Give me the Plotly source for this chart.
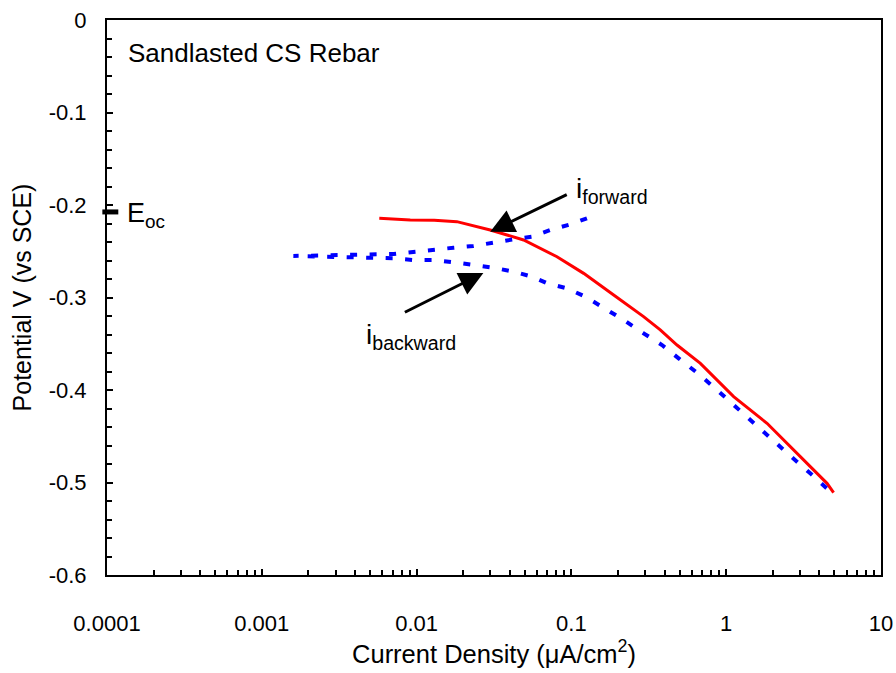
import numpy as np
import plotly.graph_objects as go

# ---------------- data ----------------
red_x = [0.00574, 0.0091, 0.013, 0.0182, 0.0299, 0.0491, 0.0807, 0.120, 0.1875,
         0.2926, 0.375, 0.481, 0.681, 1.117, 1.835, 3.01, 4.48, 4.94]
red_y = [-0.2144, -0.2162, -0.2165, -0.218, -0.227, -0.2378, -0.2559, -0.2739, -0.2973,
         -0.3207, -0.3350, -0.3514, -0.3712, -0.4072, -0.436, -0.4721, -0.5009, -0.511]

blue_up_x = [0.126, 0.0984, 0.0731, 0.0556, 0.0423, 0.0314, 0.0233, 0.0173, 0.0129,
             0.00957, 0.0071, 0.0016]
blue_up_y = [-0.2144, -0.2209, -0.2270, -0.2343, -0.2371, -0.2407, -0.2443, -0.2462,
             -0.2486, -0.2505, -0.2530, -0.2551]
blue_low_x = [0.0016, 0.0071, 0.0096, 0.0129, 0.0173, 0.0233, 0.0314, 0.0423, 0.0556,
              0.0696, 0.0937, 0.123, 0.1656, 0.2175, 0.2926, 0.385, 0.493, 0.664, 0.873,
              1.117, 1.50, 2.02, 2.66, 3.49, 4.59, 4.94]
blue_low_y = [-0.2551, -0.2576, -0.2595, -0.2595, -0.2619, -0.2649, -0.2678, -0.2721,
              -0.2775, -0.2846, -0.2901, -0.2991, -0.3117, -0.3243, -0.3387, -0.3514,
              -0.3658, -0.3827, -0.4000, -0.4162, -0.4353, -0.4559, -0.4728, -0.4900,
              -0.5081, -0.511]

eoc = -0.2075

x_tickvals = [0.0001, 0.001, 0.01, 0.1, 1, 10]
x_ticktext = ["0.0001", "0.001", "0.01", "0.1", "1", "10"]
y_tickvals = [0, -0.1, -0.2, -0.3, -0.4, -0.5, -0.6]
y_ticktext = ["0", "-0.1", "-0.2", "-0.3", "-0.4", "-0.5", "-0.6"]

# arrow heads (data) and label anchors (data)
fwd_head = (0.0299, -0.229)
bwd_head = (0.0270, -0.2735)
fwd_label = (0.104, -0.184)
bwd_label = (0.0046, -0.342)

FONT = "Liberation Sans, Arial, sans-serif"

fig = go.Figure()
fig.add_trace(go.Scatter(x=red_x, y=red_y, mode="lines",
                         line=dict(color="#FF0000", width=3), showlegend=False))
fig.add_trace(go.Scatter(x=blue_up_x + blue_low_x[1:], y=blue_up_y + blue_low_y[1:],
                         mode="lines",
                         line=dict(color="#0000FF", width=4, dash="7px,12.5px"),
                         showlegend=False))

minor_x = [m * 10.0 ** e for e in range(-4, 1) for m in range(2, 10)]

fig.update_xaxes(type="log", range=[-4, 1], automargin=False,
                 tickmode="array", tickvals=x_tickvals, ticktext=x_ticktext,
                 ticks="inside", ticklen=6, tickwidth=1.5, tickcolor="black",
                 minor=dict(tickmode="array", tickvals=minor_x, ticks="inside",
                            ticklen=5, tickwidth=1.5, tickcolor="black", showgrid=False),
                 showline=True, linecolor="black", linewidth=2, mirror=True,
                 showgrid=False, zeroline=False,
                 tickfont=dict(family=FONT, size=22, color="black"),
                 ticklabelstandoff=28,
                 title=dict(text="Current Density (\u03bcA/cm<sup>2</sup>)",
                            font=dict(family=FONT, size=25.5, color="black"),
                            standoff=9))
fig.update_yaxes(range=[-0.6, 0], automargin=False,
                 tickmode="array", tickvals=y_tickvals, ticktext=y_ticktext,
                 ticks="inside", ticklen=6, tickwidth=1.5, tickcolor="black",
                 minor=dict(dtick=0.02, ticks="inside", ticklen=5, tickwidth=1.5,
                            tickcolor="black", showgrid=False),
                 showline=True, linecolor="black", linewidth=2, mirror=True,
                 showgrid=False, zeroline=False,
                 tickfont=dict(family=FONT, size=22, color="black"),
                 ticklabelstandoff=14,
                 title=dict(text="Potential V (vs SCE)",
                            font=dict(family=FONT, size=25, color="black"),
                            standoff=10))

# Eoc marker on the axis
fig.add_shape(type="line", xref="paper", yref="y", x0=-0.006, x1=0.0146,
              y0=eoc, y1=eoc, line=dict(color="black", width=5))

annos = [
    dict(xref="paper", yref="paper", x=0.025, y=0.9405, xanchor="left", yanchor="middle",
         text="Sandlasted CS Rebar", showarrow=False,
         font=dict(family=FONT, size=26, color="black")),
    dict(xref="paper", yref="y", x=0.0236, y=eoc, xanchor="left", yanchor="middle",
         yshift=-3, text="E<sub>oc</sub>", showarrow=False,
         font=dict(family=FONT, size=27, color="black")),
    dict(xref="x", yref="y", x=np.log10(fwd_label[0]), y=fwd_label[1],
         xanchor="left", yanchor="middle", text="i<sub>forward</sub>", showarrow=False,
         font=dict(family=FONT, size=28, color="black")),
    dict(xref="x", yref="y", x=np.log10(bwd_label[0]), y=bwd_label[1],
         xanchor="left", yanchor="middle", text="i<sub>backward</sub>", showarrow=False,
         font=dict(family=FONT, size=28, color="black")),
    dict(xref="x", yref="y", x=np.log10(fwd_head[0]), y=fwd_head[1], text="",
         showarrow=True, ax=78, ay=-38, arrowhead=2, arrowsize=1.6, arrowwidth=3,
         arrowcolor="black"),
    dict(xref="x", yref="y", x=np.log10(bwd_head[0]), y=bwd_head[1], text="",
         showarrow=True, ax=-80, ay=40, arrowhead=2, arrowsize=1.6, arrowwidth=3,
         arrowcolor="black"),
]
fig.update_layout(annotations=annos, width=896, height=673,
                  margin=dict(l=107, r=15, t=20, b=98, autoexpand=False),
                  paper_bgcolor="white", plot_bgcolor="white",
                  font=dict(family=FONT, color="black"))

fig.write_html("out.html")
